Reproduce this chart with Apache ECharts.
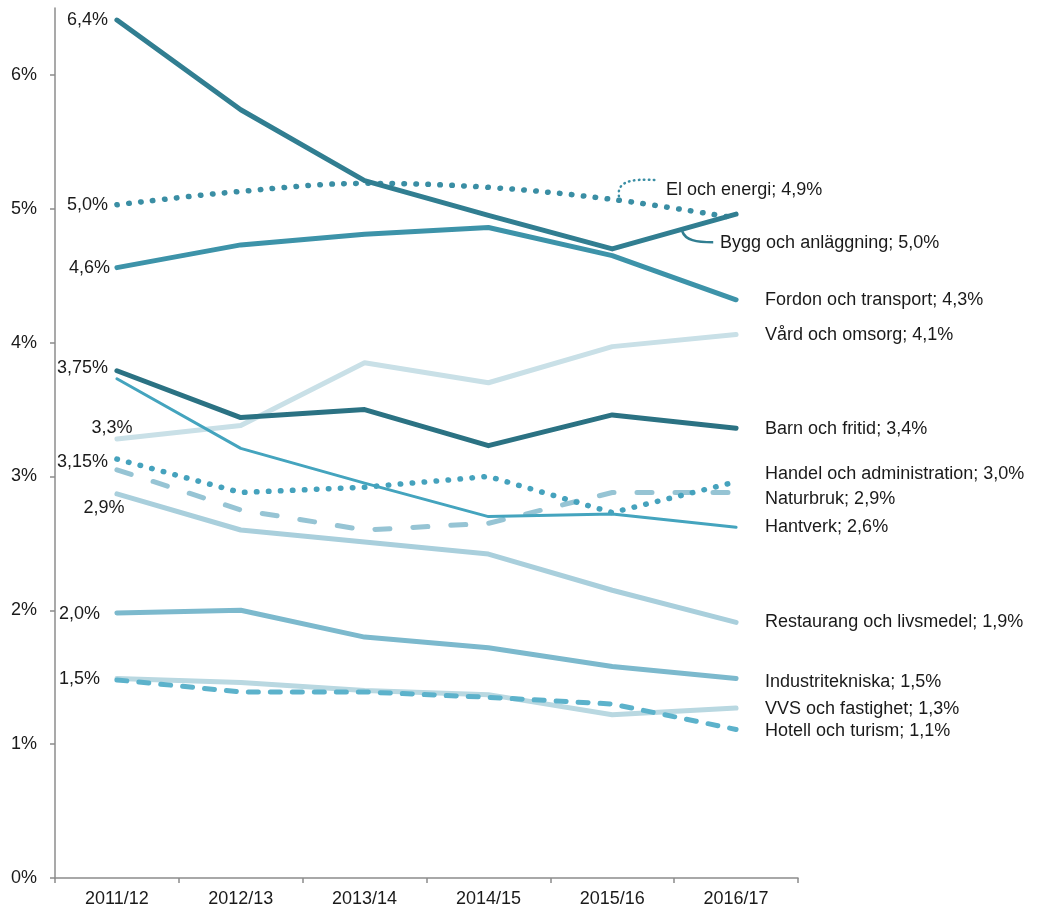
<!DOCTYPE html>
<html>
<head>
<meta charset="utf-8">
<script src="https://cdn.jsdelivr.net/npm/echarts@6/dist/echarts.min.js"></script>
<style>
html,body{margin:0;padding:0;background:#fff;}
#c{width:1038px;height:910px;}
</style>
</head>
<body>
<div id="c"></div>
<script>
const categories = ['2011/12','2012/13','2013/14','2014/15','2015/16','2016/17'];
const yTicks = [0,1,2,3,4,5,6];

const bygg       = [6.41,5.74,5.21,4.95,4.70,4.96];
const elEnergi   = [5.03,5.13,5.19,5.16,5.07,4.93];
const fordon     = [4.56,4.73,4.81,4.86,4.65,4.32];
const vard       = [3.28,3.38,3.85,3.70,3.97,4.06];
const barn       = [3.79,3.44,3.50,3.23,3.46,3.36];
const hantverk   = [3.73,3.21,2.95,2.70,2.72,2.62];
const handel     = [3.13,2.88,2.92,3.00,2.73,2.96];
const naturbruk  = [3.05,2.75,2.60,2.65,2.88,2.88];
const restaurang = [2.87,2.60,2.51,2.42,2.15,1.91];
const industri   = [1.98,2.00,1.80,1.72,1.58,1.49];
const vvs        = [1.49,1.46,1.40,1.37,1.22,1.27];
const hotell     = [1.48,1.39,1.39,1.35,1.30,1.11];

const names = {
  bygg:'Bygg och anläggning; 5,0%', el:'El och energi; 4,9%', fordon:'Fordon och transport; 4,3%',
  vard:'Vård och omsorg; 4,1%', barn:'Barn och fritid; 3,4%', hantverk:'Hantverk; 2,6%',
  handel:'Handel och administration; 3,0%', naturbruk:'Naturbruk; 2,9%',
  restaurang:'Restaurang och livsmedel; 1,9%', industri:'Industritekniska; 1,5%',
  vvs:'VVS och fastighet; 1,3%', hotell:'Hotell och turism; 1,1%'
};
const startText = {bygg:'6,4%', el:'5,0%', fordon:'4,6%', barn:'3,75%', vard:'3,3%', handel:'3,15%', restaurang:'2,9%', industri:'2,0%', vvs:'1,5%'};

const FONT = 'Liberation Sans, Arial, sans-serif';
const txt = {color:'#1a1a1a', fontSize:18, fontFamily:FONT};

function mk(key, vals, color, width, type, opts) {
  opts = opts || {};
  const data = vals.map((v,i)=>{
    const d = {value:v};
    if (i===0 && startText[key]) {
      d.label = Object.assign({show:true, formatter:startText[key], position:'left', distance:9}, txt, opts.startLabel||{});
    }
    if (i===vals.length-1) {
      d.label = Object.assign({show:true, formatter:names[key], position:'right', distance:29, align:'left'}, txt, opts.endLabel||{});
    }
    return d;
  });
  return {
    name:names[key], type:'line', data:data,
    symbol:'circle', symbolSize:0, showSymbol:true,
    smooth: opts.smooth || false,
    lineStyle:{color:color, width:width, type:type, cap:'round', join:'round'},
    itemStyle:{color:color},
    emphasis:{disabled:true},
    z: opts.z || 2
  };
}

const series = [
  mk('vard', vard, '#c9e0e7', 5, 'solid', {startLabel:{position:'top', distance:2, offset:[-5,0]}}),
  mk('restaurang', restaurang, '#a9cfdc', 5, 'solid', {startLabel:{position:'bottom', distance:5, offset:[-13,0]}}),
  mk('vvs', vvs, '#b9d8e1', 5, 'solid', {startLabel:{distance:17}, endLabel:{offset:[0,1]}}),
  mk('industri', industri, '#7cb9cd', 5, 'solid', {startLabel:{distance:17, offset:[0,1]}, endLabel:{offset:[0,3]}}),
  mk('hotell', hotell, '#5cb2cb', 5, [10,12], {endLabel:{offset:[0,2]}}),
  mk('naturbruk', naturbruk, '#96c4d4', 5, [15,23], {endLabel:{offset:[0,7]}}),
  mk('handel', handel, '#45a2bd', 5.5, [0.5,11.5], {startLabel:{offset:[0,3]}, endLabel:{offset:[0,-8]}}),
  mk('hantverk', hantverk, '#44a4be', 3, 'solid', {}),
  mk('fordon', fordon, '#3d93a9', 5, 'solid', {startLabel:{distance:7}}),
  mk('barn', barn, '#2b7283', 5, 'solid', {startLabel:{offset:[0,-3]}, endLabel:{offset:[0,1]}}),
  mk('el', elEnergi, '#3a8ea4', 5.5, [0.5,11.5], {smooth:0.35, endLabel:{offset:[-99,-28]}}),
  mk('bygg', bygg, '#317e91', 5, 'solid', {endLabel:{offset:[-45,29]}})
];

const chart = echarts.init(document.getElementById('c'), null, {renderer:'canvas'});
chart.setOption({
  animation:false,
  backgroundColor:'#ffffff',
  grid:{left:55, right:240, top:8, bottom:32, containLabel:false},
  xAxis:{
    type:'category', data:categories, boundaryGap:true,
    axisLine:{lineStyle:{color:'#8c8c8c', width:1.5}},
    axisTick:{show:true, length:5, lineStyle:{color:'#8c8c8c', width:1.5}},
    axisLabel:Object.assign({margin:12, interval:0}, txt)
  },
  yAxis:{
    type:'value', min:0, max:6.5, interval:1,
    axisLine:{show:true, lineStyle:{color:'#8c8c8c', width:1.5}},
    axisTick:{show:true, length:5, customValues:yTicks, lineStyle:{color:'#8c8c8c', width:1.5}},
    axisLabel:Object.assign({margin:18, customValues:yTicks, formatter:v=>v+'%'}, txt),
    splitLine:{show:false}
  },
  series:series
});

// leader lines for the two top labels
const pEl = chart.convertToPixel({seriesIndex:10}, [5, elEnergi[5]]);
const pBy = chart.convertToPixel({seriesIndex:11}, [5, bygg[5]]);
const p4 = chart.convertToPixel({seriesIndex:11}, [4, bygg[4]]);
const fx = 0.565;
const byStart = [p4[0] + (pBy[0]-p4[0])*fx, p4[1] + (pBy[1]-p4[1])*fx];
chart.setOption({
  graphic:[
    {type:'bezierCurve', z:10, shape:{
      x1:pEl[0]-116, y1:pEl[1]-17, x2:pEl[0]-78, y2:pEl[1]-38,
      cpx1:pEl[0]-122, cpy1:pEl[1]-36, cpx2:pEl[0]-108, cpy2:pEl[1]-40},
      style:{stroke:'#3a8ea4', lineWidth:2.5, lineDash:[0.5,4.5], lineCap:'round', fill:null}},
    {type:'bezierCurve', z:10, shape:{
      x1:byStart[0], y1:byStart[1]+2, x2:byStart[0]+31, y2:byStart[1]+13,
      cpx1:byStart[0]+3, cpy1:byStart[1]+11, cpx2:byStart[0]+14, cpy2:byStart[1]+13},
      style:{stroke:'#317e91', lineWidth:2.5, fill:null}}
  ]
});
</script>
</body>
</html>
